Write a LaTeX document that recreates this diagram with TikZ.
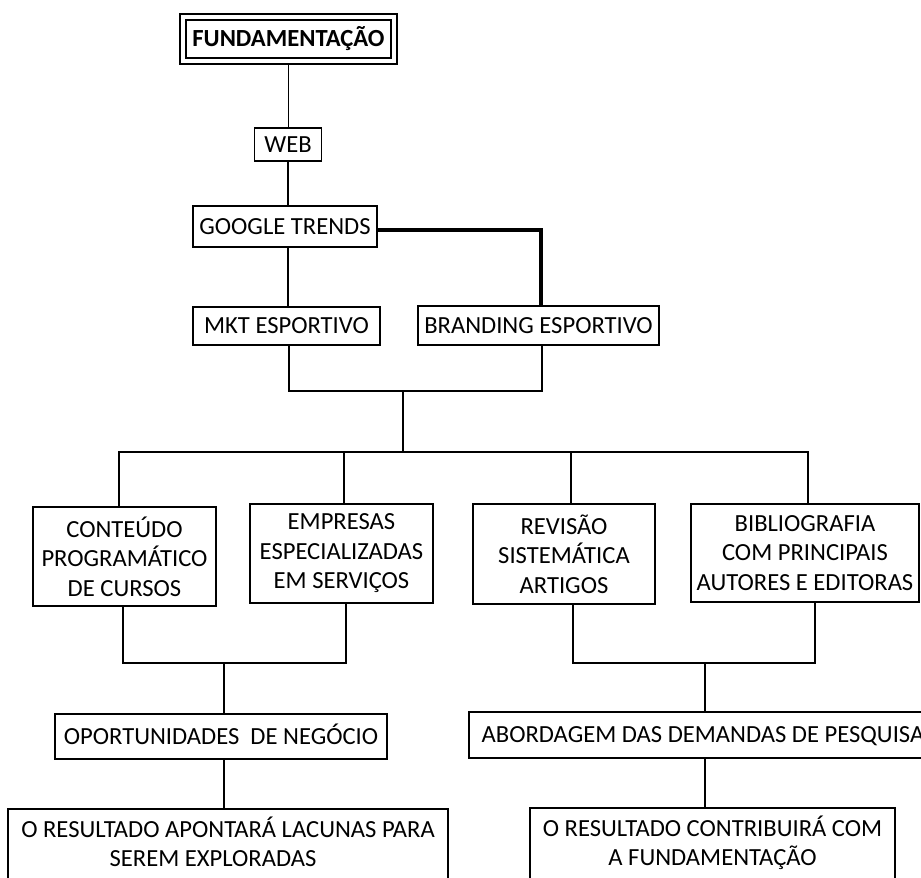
\documentclass[tikz,border=0pt]{standalone}
\usepackage{fontspec}
\setmainfont{Carlito}
\usetikzlibrary{calc}
\begin{document}
\begin{tikzpicture}[x=1pt,y=-1pt,
  conn/.style={line width=1.6pt},
  thickconn/.style={line width=3.8pt},
  box/.style={draw, line width=1.5pt, inner sep=0pt, align=center,
    font=\fontsize{24.6}{29.5}\selectfont},
  onebox/.style={box, text height=15.9pt, text depth=0pt},
  dblbox/.style={draw, double, line width=1.4pt, double distance=4.6pt,
    inner sep=0pt, outer sep=3.7pt, text height=15.9pt, text depth=0pt,
    font=\fontsize{24.6}{29.5}\selectfont\bfseries}]
\useasboundingbox (0,0) rectangle (921,878);
\clip (0,0) rectangle (921,878);

% nodes
\node[dblbox, minimum width=211pt, minimum height=44pt] (fund) at (288.5,39) {FUNDAMENTAÇÃO};
\node[onebox, minimum width=67pt, minimum height=33pt] (web) at (288,144.5) {WEB};
\node[onebox, minimum width=184pt, minimum height=41pt] (google) at (285,226.5) {GOOGLE TRENDS};
\node[onebox, minimum width=187pt, minimum height=38pt] (mkt) at (286.5,326) {MKT ESPORTIVO};
\node[onebox, minimum width=241pt, minimum height=39pt] (brand) at (538.5,325.5) {BRANDING ESPORTIVO};

\node[box, minimum width=183pt, minimum height=99pt] (cont) at (124.5,556.5) {CONTEÚDO\\PROGRAMÁTICO\\DE CURSOS};
\node[box, minimum width=183pt, minimum height=99pt] (emp) at (341.5,553.5) {EMPRESAS\\ESPECIALIZADAS\\EM SERVIÇOS};
\node[box, minimum width=182pt, minimum height=100pt] (rev) at (564,554) {REVISÃO\\SISTEMÁTICA\\ARTIGOS};
\node[box, minimum width=228pt, minimum height=98pt] (bib) at (805,553) {BIBLIOGRAFIA\\COM PRINCIPAIS\\AUTORES E EDITORAS};

\node[onebox, minimum width=332pt, minimum height=45pt] (oport) at (221,736.5) {OPORTUNIDADES\ \ DE NEGÓCIO};
\node[onebox, minimum width=468pt, minimum height=46pt] (abord) at (703,735) {ABORDAGEM DAS DEMANDAS DE PESQUISA};

\node[box, anchor=north, inner ysep=8pt, inner xsep=0pt, minimum width=440pt] (res1) at (228,808)
  {\parbox[t][90pt][t]{430pt}{\centering O RESULTADO APONTARÁ LACUNAS PARA\\SEREM EXPLORADAS\hspace*{30pt}}};
\node[box, anchor=north, inner ysep=8pt, inner xsep=0pt, minimum width=365pt] (res2) at (712.5,807)
  {\parbox[t][90pt][t]{355pt}{\centering O RESULTADO CONTRIBUIRÁ COM\\A FUNDAMENTAÇÃO}};

% connectors
\draw[conn] (fund.south) -- (fund.south |- web.north);
\draw[conn] (web.south) -- (web.south |- google.north);
\draw[conn] (web.south |- google.south) -- (web.south |- mkt.north);
\draw[thickconn] ([yshift=-3.5pt]google.east) -| ([xshift=2.5pt]brand.north);

\coordinate (j1) at (403,391);
\coordinate (hub) at (403,452);
\draw[conn] ([xshift=2.5pt]mkt.south) |- (j1) -| ([xshift=3.5pt]brand.south);
\draw[conn] (j1) -- (hub);
\draw[conn] ([xshift=-5.5pt]cont.north) |- (hub) -| ([xshift=3pt]bib.north);
\draw[conn] ([xshift=2.5pt]emp.north) -- ([xshift=2.5pt]emp.north |- hub);
\draw[conn] ([xshift=7pt]rev.north) -- ([xshift=7pt]rev.north |- hub);

\coordinate (b1) at (224,663);
\draw[conn] ([xshift=-1.5pt]cont.south) |- (b1) -| ([xshift=4.5pt]emp.south);
\draw[conn] (b1) -- (b1 |- oport.north);
\draw[conn] (b1 |- oport.south) -- (b1 |- res1.north);

\coordinate (b2) at (705,663);
\draw[conn] ([xshift=9pt]rev.south) |- (b2) -| ([xshift=10pt]bib.south);
\draw[conn] (b2) -- (b2 |- abord.north);
\draw[conn] (b2 |- abord.south) -- (b2 |- res2.north);
\end{tikzpicture}
\end{document}
